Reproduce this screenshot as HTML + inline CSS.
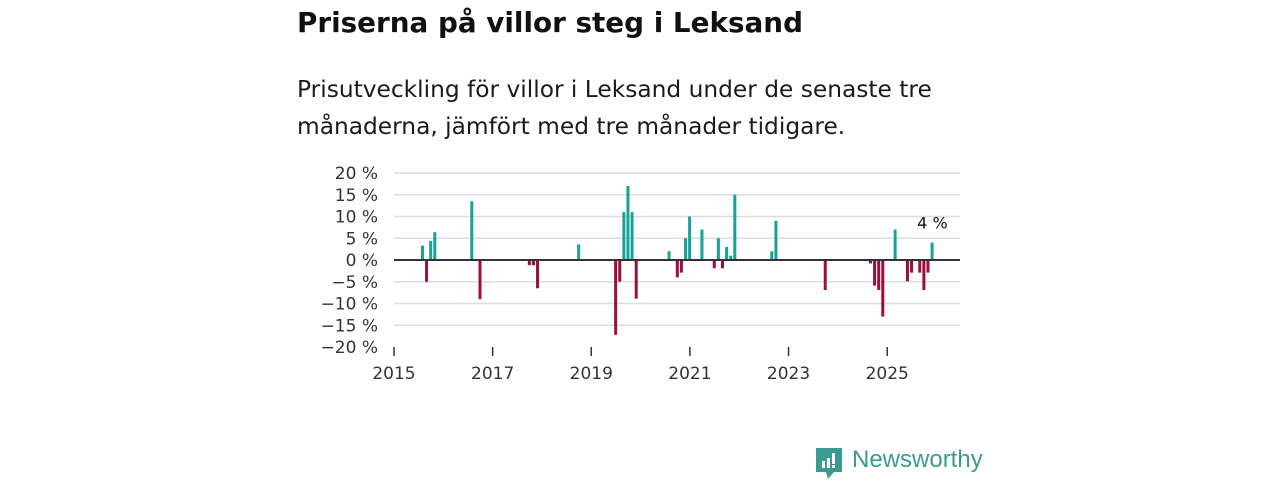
<!DOCTYPE html>
<html><head><meta charset="utf-8">
<style>
body{margin:0;background:#fff;width:1280px;height:480px;overflow:hidden;font-family:"DejaVu Sans","Liberation Sans",sans-serif;color:#111}
#title{position:absolute;left:297px;top:6px;font-size:27.8px;font-weight:bold;margin:0;white-space:nowrap}
#sub{position:absolute;left:297px;top:71px;font-size:23.3px;line-height:37px;width:720px;color:#1a1a1a;white-space:nowrap}
svg{position:absolute;left:0;top:0}
.tk{font-size:17px;fill:#333;font-family:"DejaVu Sans",sans-serif}
</style></head><body>
<h1 id="title">Priserna på villor steg i Leksand</h1>
<div id="sub">Prisutveckling för villor i Leksand under de senaste tre<br>månaderna, jämfört med tre månader tidigare.</div>
<svg id="chart" width="1280" height="480"></svg>
<div style="position:absolute;left:815px;top:446px;height:34px">
<svg width="30" height="34" style="position:absolute;left:0;top:2px"><path d="M1 0h26v24h-8l-6 7l-2-7h-10z" fill="#3c9b90"/><rect x="7" y="13" width="3" height="7" fill="#fff"/><rect x="12" y="10" width="3" height="10" fill="#fff"/><rect x="17" y="5" width="3" height="11" fill="#fff"/><rect x="17" y="17" width="3" height="3" fill="#fff"/></svg>
<span style="position:absolute;left:37px;top:0;font-size:24px;color:#3c9b90;white-space:nowrap;font-family:'Liberation Sans',sans-serif">Newsworthy</span></div>
<script>
const months=[6,7,8,9,18,20,32,33,34,44,53,54,55,56,57,58,66,68,69,70,71,74,77,78,79,80,81,82,91,92,104,115,116,117,118,121,124,125,127,128,129,130];
const values=[3.3,-5,4.4,6.4,13.5,-9,-1.2,-1.2,-6.5,3.6,-17.2,-5,11,17,11,-8.9,2,-4,-2.9,5,10,7,-1.9,5,-1.9,3,1,15,2,9,-6.9,-0.8,-5.9,-6.9,-13,7,-4.9,-2.9,-2.9,-6.9,-2.9,4];
const yTicks=[20,15,10,5,0,-5,-10,-15,-20];
const yearTicks=[2015,2017,2019,2021,2023,2025];
const NS='http://www.w3.org/2000/svg';
const svg=document.getElementById('chart');
const x=m=>394+m*4.11;
const y=v=>260-v*4.35;
function el(t,a){const e=document.createElementNS(NS,t);for(const k in a)e.setAttribute(k,a[k]);svg.appendChild(e);return e;}
yTicks.forEach(v=>{
  if(v!==0&&v!==-20){const g=el('line',{x1:394,x2:960,y1:y(v),y2:y(v),stroke:'#dcdcdc','stroke-width':1.5});
  
  }
  const t=el('text',{x:378,y:y(v)+6,'text-anchor':'end',class:'tk'});
  t.textContent=(v<0?'\u2212'+(-v):v)+' %';
  
  
});
yearTicks.forEach(yr=>{
  const m=(yr-2015)*12;
  const l=el('line',{x1:x(m),x2:x(m),y1:347,y2:356,stroke:'#333','stroke-width':1.5});
  
  
  const t=el('text',{x:x(m),y:379,'text-anchor':'middle',class:'tk'});
  t.textContent=yr;
  
  
});
months.forEach((m,i)=>{
  const v=values[i];const cx=x(m+1)-0.3;
  const r=el('rect',{x:cx-1.5,width:3,y:Math.min(y(v),y(0)),height:Math.abs(y(v)-y(0)),fill:v>=0?'#17a297':'#9c0d40'});
  
  
});
const z=el('line',{x1:394,x2:960,y1:y(0),y2:y(0),stroke:'#333','stroke-width':2});


const last=months.length-1;
const lab=el('text',{x:x(months[last]+1),y:y(values[last])-14,'text-anchor':'middle','font-size':16,fill:'#111'});
lab.textContent=Math.round(values[last])+' %';


</script>
</body></html>
